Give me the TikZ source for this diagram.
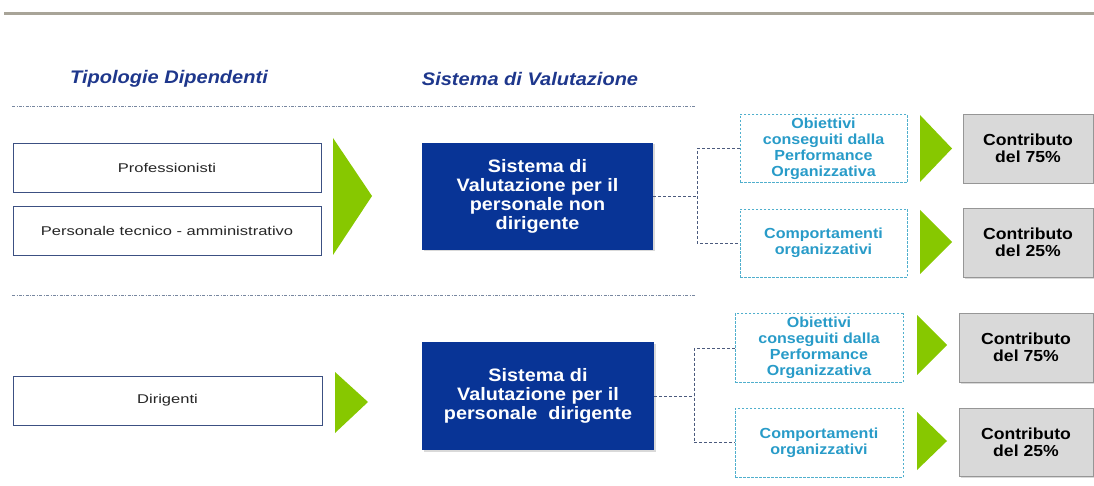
\documentclass[tikz,border=0pt]{standalone}
\usepackage{fontspec}
\setmainfont{Liberation Sans}
\newfontfamily\wf[FakeStretch=1.3]{Liberation Sans}
\newfontfamily\nf[FakeStretch=1.1]{Liberation Sans}
\usetikzlibrary{shadows}
\definecolor{hdrblue}{RGB}{30,55,140}
\definecolor{boxblue}{RGB}{8,52,150}
\definecolor{vgreen}{RGB}{135,200,0}
\definecolor{tealtxt}{RGB}{40,155,200}
\definecolor{tealbord}{RGB}{80,175,205}
\definecolor{wborder}{RGB}{60,80,130}
\definecolor{connc}{RGB}{75,90,125}
\definecolor{sepc}{RGB}{120,135,160}
\definecolor{barc}{RGB}{168,164,152}
\definecolor{gfill}{RGB}{217,217,217}
\definecolor{gbord}{RGB}{150,150,150}
\tikzset{
  wbox/.style={draw=wborder, line width=0.8pt, fill=white, text=black!85,
    font=\wf\fontsize{12.7}{15}\selectfont},
  bbox/.style={fill=boxblue, draw=none,
    drop shadow={shadow xshift=1.5pt, shadow yshift=-1.5pt, opacity=0.3}},
  btext/.style={text=white, align=center, font=\nf\bfseries\fontsize{18}{19}\selectfont},
  obox/.style={draw=tealbord, dash pattern=on 2.5pt off 1.5pt, line width=0.7pt,
    text=tealtxt, align=center, font=\nf\bfseries\fontsize{14.6}{16}\selectfont},
  gbox/.style={fill=gfill, draw=gbord, line width=0.6pt, align=center, text=black,
    font=\nf\bfseries\fontsize{16}{17}\selectfont,
    drop shadow={shadow xshift=1.5pt, shadow yshift=-1.5pt, opacity=0.3}},
  hdr/.style={text=hdrblue, font=\nf\bfseries\itshape\fontsize{18.2}{20}\selectfont},
  conn/.style={draw=connc, dash pattern=on 3pt off 2pt, line width=0.8pt},
  sep/.style={draw=sepc, dash pattern=on 3pt off 1.5pt on 0.8pt off 1.5pt, line width=0.7pt},
  tri/.style={fill=vgreen}
}
\begin{document}
\begin{tikzpicture}[x=1pt,y=-1pt]
\useasboundingbox (0,0) rectangle (1094,486);
% top bar and separators
\draw[barc, line width=3pt] (4,14) -- (1094,14);
\draw[sep] (12,106) -- (695,106);
\draw[sep] (12,295) -- (695,295);
% headers
\node[hdr] (h1) at (169,79) {Tipologie Dipendenti};
\node[hdr] (h2) at (530,79) {Sistema di Valutazione};
% ---- top section ----
\node[wbox, minimum width=308, minimum height=49] (prof) at (167,167.5) {Professionisti};
\node[wbox, minimum width=308, minimum height=49] (pers) at (167,230.5) {Personale tecnico - amministrativo};
\fill[tri] (333,138) -- (372,196) -- (333,255) -- cycle;
\node[bbox, minimum width=231, minimum height=107] (bv1) at (537.5,196.5) {};
\node[btext] (bt1) at (bv1.center) {Sistema di\\Valutazione per il\\personale non\\dirigente};
\node[obox, minimum width=167, minimum height=67] (ob1) at (823.5,148.5) {Obiettivi\\conseguiti\ dalla\\Performance\\Organizzativa};
\node[obox, minimum width=167, minimum height=68] (co1) at (823.5,243) {Comportamenti\\organizzativi};
\fill[tri] (920,115) -- (952,148.5) -- (920,182) -- cycle;
\fill[tri] (920,210) -- (952,242) -- (920,274) -- cycle;
\node[gbox, minimum width=130, minimum height=69] (g1) at (1028,148.5) {Contributo\\del\ 75\%};
\node[gbox, minimum width=130, minimum height=69] (g2) at (1028,242.5) {Contributo\\del\ 25\%};
\draw[conn] (bv1.east) -- ++(44,0) coordinate (j1);
\draw[conn] (ob1.west) -| (j1) |- (co1.west);
% ---- bottom section ----
\node[wbox, minimum width=309, minimum height=49] (dir) at (167.5,400.5) {Dirigenti};
\fill[tri] (335,372) -- (368,402) -- (335,433) -- cycle;
\node[bbox, minimum width=232, minimum height=108] (bv2) at (538,396) {};
\node[btext] (bt2) at (bv2.center) {Sistema di\\Valutazione per il\\personale~ dirigente};
\node[obox, minimum width=168, minimum height=68] (ob2) at (819,348) {Obiettivi\\conseguiti\ dalla\\Performance\\Organizzativa};
\node[obox, minimum width=168, minimum height=69] (co2) at (819,442.5) {Comportamenti\\organizzativi};
\fill[tri] (917,315) -- (947,345) -- (917,375) -- cycle;
\fill[tri] (917,412) -- (947,441) -- (917,470) -- cycle;
\node[gbox, minimum width=134, minimum height=69] (g3) at (1026,347.5) {Contributo\\del\ 75\%};
\node[gbox, minimum width=134, minimum height=68] (g4) at (1026,442) {Contributo\\del\ 25\%};
\draw[conn] (bv2.east) -- ++(40,0) coordinate (j2);
\draw[conn] (ob2.west) -| (j2) |- (co2.west);
\end{tikzpicture}
\end{document}
